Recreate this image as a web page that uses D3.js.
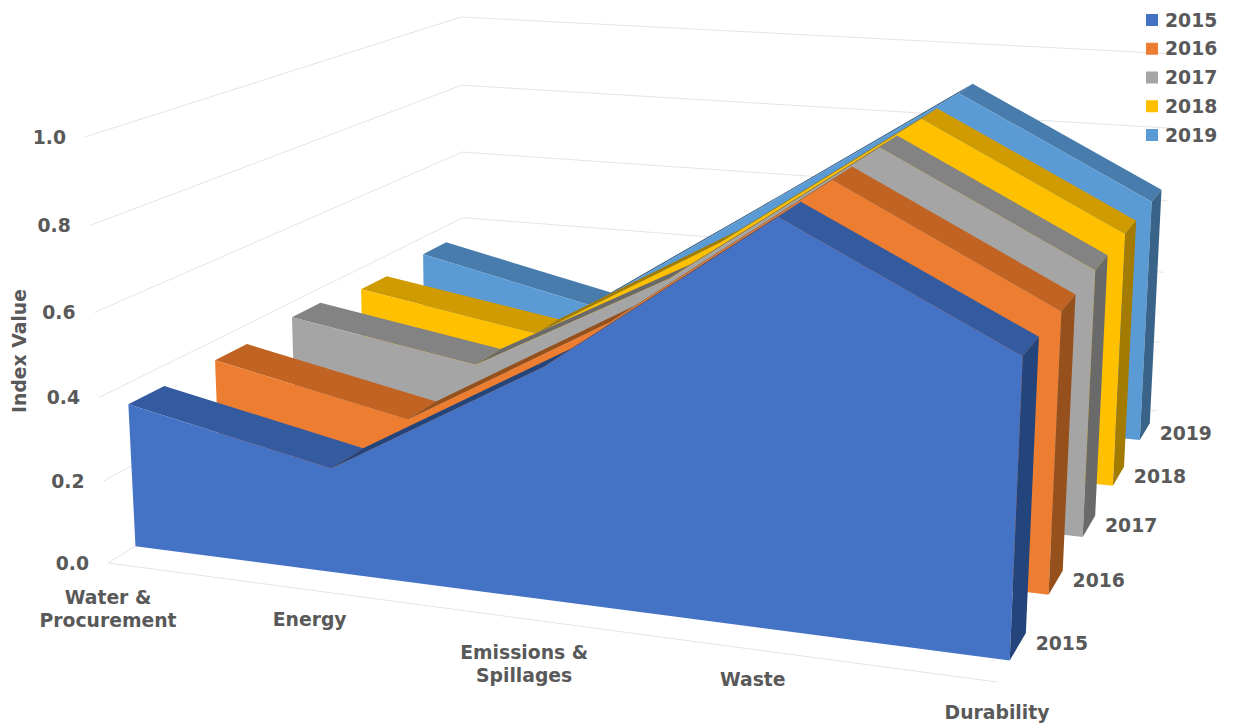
<!DOCTYPE html>
<html>
<head>
<meta charset="utf-8">
<script src="https://cdnjs.cloudflare.com/ajax/libs/d3/7.8.5/d3.min.js"></script>
<style>
  html, body { margin: 0; padding: 0; background: #fff; }
  text { font-family: "DejaVu Sans", sans-serif; font-weight: bold; fill: #595959; font-size: 18.8px; }
</style>
</head>
<body>
<div id="chart"></div>
<script>
//DATA
var categories = [['Water &', 'Procurement'], ['Energy'], ['Emissions &', 'Spillages'], ['Waste'], ['Durability']];
var years = ['2015', '2016', '2017', '2018', '2019'];
var values2015 = [0.35, 0.25, 0.54, 0.91, 0.66];
var values2016 = [0.35, 0.25, 0.54, 0.91, 0.655];
var values2017 = [0.36, 0.28, 0.55, 0.91, 0.655];
var values2018 = [0.34, 0.26, 0.555, 0.91, 0.655];
var values2019 = [0.35, 0.24, 0.575, 0.91, 0.655];
var valueTicks = [0, 0.2, 0.4, 0.6, 0.8, 1.0];
var seriesValues = [values2015, values2016, values2017, values2018, values2019];

var faceColors = ['#4472c4', '#ed7d31', '#a5a5a5', '#ffc000', '#5b9bd5'];
var roofColors = ['#345a9f', '#c16322', '#838383', '#cf9b00', '#487cac'];
var sideColors = ['#24457c', '#96501b', '#6a6a6a', '#a37b00', '#3a6389'];

var width = 1233,
    height = 725;

var svg = d3.select('#chart').append('svg')
    .attr('width', width)
    .attr('height', height);

//PERSPECTIVE
//maps the unit square onto a screen quad: [u=0,v=0], [1,0], [1,1], [0,1]
function quadMap(p) {
  var dx1 = p[1][0] - p[2][0], dx2 = p[3][0] - p[2][0], sx = p[0][0] - p[1][0] + p[2][0] - p[3][0],
      dy1 = p[1][1] - p[2][1], dy2 = p[3][1] - p[2][1], sy = p[0][1] - p[1][1] + p[2][1] - p[3][1],
      det = dx1 * dy2 - dx2 * dy1,
      g = (sx * dy2 - dx2 * sy) / det,
      h = (dx1 * sy - sx * dy1) / det,
      a = p[1][0] - p[0][0] + g * p[1][0],
      b = p[3][0] - p[0][0] + h * p[3][0],
      d = p[1][1] - p[0][1] + g * p[1][1],
      e = p[3][1] - p[0][1] + h * p[3][1];
  return function (u, v) {
    var w = g * u + h * v + 1;
    return [(a * u + b * v + p[0][0]) / w, (d * u + e * v + p[0][1]) / w];
  };
}

var floorMap = quadMap([[108, 563], [997, 682], [1157, 411], [464, 345]]);
var ceilMap = quadMap([[85, 137], [1017, 204], [1175, 54], [461, 17]]);

function project(u, v, z) {
  var a = floorMap(u, v), b = ceilMap(u, v),
      t = z / (z + (1 - z) * 1.05); //upper levels sit a little further apart on screen
  return [a[0] + (b[0] - a[0]) * t, a[1] + (b[1] - a[1]) * t];
}

//scales along the three chart axes
var uScale = d3.scalePoint().domain(d3.range(categories.length)).range([0, 1]);
var vScale = d3.scaleBand().domain(years).range([0, 1]).paddingInner(0.6).paddingOuter(0.3);
var zScale = d3.scaleLinear().domain([0, 1]).range([0, 1]);

var line = d3.line();
function poly(pts) { return line(pts) + 'Z'; }

//GRID
svg.selectAll('.gridline')
    .data(valueTicks)
  .enter().append('path')
    .attr('class', 'gridline')
    .attr('fill', 'none')
    .attr('stroke', '#e4e4e4')
    .attr('stroke-width', 1)
    .attr('d', function (d) {
      var z = zScale(d);
      return line([project(0, 0, z), project(0, 1, z), project(1, 1, z)]);
    });

//floor front edge
svg.append('path')
    .attr('fill', 'none')
    .attr('stroke', '#e4e4e4')
    .attr('d', line([project(0, 0, 0), project(1, 0, 0)]));

//AREAS, back series first
d3.range(years.length).reverse().forEach(function (s) {
  var vFront = vScale(years[s]),
      vBack = vFront + vScale.bandwidth(),
      vals = seriesValues[s],
      g = svg.append('g').attr('class', 'series');

  //roof strips between neighbouring categories
  d3.pairs(d3.range(vals.length)).forEach(function (p) {
    var u0 = uScale(p[0]), u1 = uScale(p[1]),
        z0 = zScale(vals[p[0]]), z1 = zScale(vals[p[1]]);
    g.append('path')
        .attr('fill', z1 > z0 ? sideColors[s] : roofColors[s])
        .attr('d', poly([project(u0, vFront, z0), project(u0, vBack, z0), project(u1, vBack, z1), project(u1, vFront, z1)]));
  });

  //front face
  var top = vals.map(function (d, i) { return project(uScale(i), vFront, zScale(d)); });
  g.append('path')
      .attr('fill', faceColors[s])
      .attr('d', poly([project(0, vFront, 0)].concat(top, [project(1, vFront, 0)])));

  //right end
  var last = zScale(vals[vals.length - 1]);
  g.append('path')
      .attr('fill', sideColors[s])
      .attr('d', poly([project(1, vFront, 0), project(1, vFront, last), project(1, vBack, last), project(1, vBack, 0)]));
});

//AXIS LABELS
svg.selectAll('.value-label')
    .data(valueTicks)
  .enter().append('text')
    .attr('class', 'value-label')
    .attr('text-anchor', 'end')
    .attr('dominant-baseline', 'middle')
    .attr('x', function (d) { return project(0, 0, zScale(d))[0] - 19; })
    .attr('y', function (d) { return project(0, 0, zScale(d))[1] + 1; })
    .text(function (d) { return d3.format('.1f')(d); });

svg.selectAll('.category-label')
    .data(categories)
  .enter().append('text')
    .attr('class', 'category-label')
    .attr('text-anchor', 'middle')
    .each(function (d, i) {
      var base = project(uScale(i), 0, 0),
          y0 = base[1] + (d.length > 1 ? 35 : 31);
      d3.select(this).selectAll('tspan')
          .data(d)
        .enter().append('tspan')
          .attr('x', base[0])
          .attr('y', function (t, j) { return y0 + j * 23; })
          .attr('dominant-baseline', 'middle')
          .text(function (t) { return t; });
    });

svg.selectAll('.year-label')
    .data(years)
  .enter().append('text')
    .attr('class', 'year-label')
    .attr('dominant-baseline', 'middle')
    .attr('text-anchor', 'middle')
    .attr('x', function (d) { return project(1, vScale(d) + vScale.bandwidth(), 0)[0] + 36; })
    .attr('y', function (d) { return project(1, vScale(d) + vScale.bandwidth(), 0)[1] + 11; })
    .text(function (d) { return d; });

svg.append('text')
    .attr('transform', 'translate(20,351) rotate(-90)')
    .attr('text-anchor', 'middle')
    .attr('dominant-baseline', 'middle')
    .text('Index Value');

//LEGEND
var legendY = d3.scalePoint().domain(years).range([20, 135]);
var legend = svg.selectAll('.legend')
    .data(years)
  .enter().append('g')
    .attr('class', 'legend')
    .attr('transform', function (d) { return 'translate(1146,' + legendY(d) + ')'; });

legend.append('rect')
    .attr('y', -6)
    .attr('width', 12)
    .attr('height', 12)
    .attr('fill', function (d, i) { return faceColors[i]; });

legend.append('text')
    .attr('x', 19)
    .attr('y', 1)
    .attr('dominant-baseline', 'middle')
    .text(function (d) { return d; });
</script>
</body>
</html>
